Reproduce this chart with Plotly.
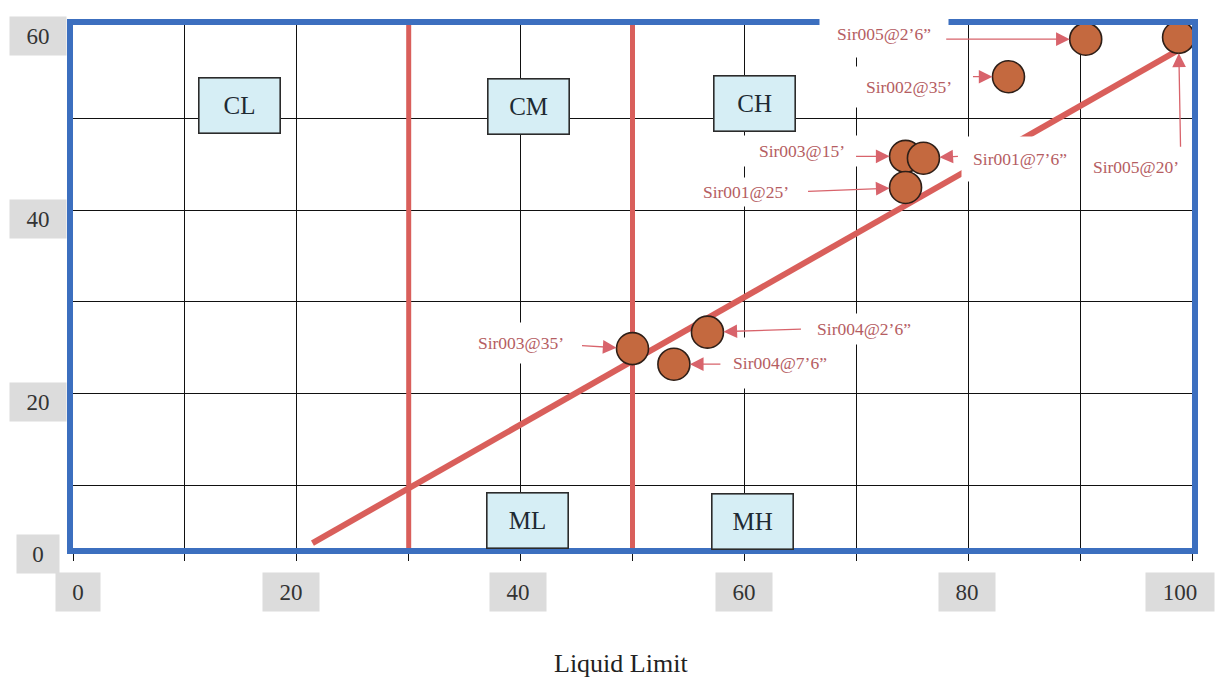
import plotly.graph_objects as go

# ---------------- data ----------------
sample_ids = ["Sir005@2’6”", "Sir005@20’", "Sir002@35’", "Sir003@15’", "Sir001@7’6”",
              "Sir001@25’", "Sir003@35’", "Sir004@2’6”", "Sir004@7’6”"]
liquid_limit = [90.5, 98.8, 83.6, 74.4, 76.0, 74.4, 50.0, 56.7, 53.7]
plasticity_index = [58.7, 58.9, 54.6, 45.9, 45.7, 42.5, 24.9, 26.7, 23.2]

trend_x = [21.4, 99.2]
trend_y = [3.66, 57.8]

ll_boundaries = [30, 50]

zone_names = ["CL", "CM", "CH", "ML", "MH"]
zone_x = [14.9, 40.75, 60.9, 40.6, 60.7]
zone_y = [51.5, 51.3, 51.7, 6.1, 6.0]

x_tick_vals = [0, 20, 40, 60, 80, 100]
y_tick_vals = [0, 20, 40, 60]
x_title = "Liquid Limit"

# ---------------- styles ----------------
X_RANGE = [0, 100]
Y_RANGE = [3.12, 60.25]
SERIF = "Liberation Serif, Times New Roman, serif"
RED = "#d95f5b"
BLUE = "#3c6fbf"
LABEL_COLOR = "#b55d62"
ARROW_COLOR = "#d8636b"
TICK_FONT = dict(family=SERIF, size=23, color="#333333")
TICK_BG = "#dcdcdc"

# label placement per sample: (box dx, box dy, box w, box h, arrow ax, arrow ay) in pixels
label_style = [
    (-202, -5, 128, 46, -141, 0),
    (-43, 130, 108, 42, 2, 111),
    (-99, 10, 108, 40, -37, 0),
    (-104, -5, 122, 30, -51, 0),
    (97, 1, 116, 44, 36, -2),
    (-160, 5, 112, 28, -99, 4),
    (-112, -6, 100, 40, -52, -3),
    (157, -3, 112, 30, 95, -3),
    (106, -1, 108, 50, 48, 0),
]
x_label_shift = [5, -6, -3, 0, -1, -12]

fig = go.Figure()

# Liquid-limit boundary lines
for b in ll_boundaries:
    fig.add_trace(go.Scatter(x=[b, b], y=Y_RANGE, mode="lines",
                             line=dict(color=RED, width=5), hoverinfo="skip",
                             showlegend=False))

# trend line
fig.add_trace(go.Scatter(x=trend_x, y=trend_y, mode="lines",
                         line=dict(color=RED, width=6), hoverinfo="skip",
                         showlegend=False))

# sample points
fig.add_trace(go.Scatter(x=liquid_limit, y=plasticity_index, mode="markers",
                         text=sample_ids,
                         marker=dict(size=32, color="#c4693f",
                                     line=dict(color="#2e1f18", width=1.6)),
                         showlegend=False))

annotations = []

# text labels (white boxes) for samples
for sid, x, y, st in zip(sample_ids, liquid_limit, plasticity_index, label_style):
    dx, dy, w, h, ax, ay = st
    annotations.append(dict(x=x, y=y, xref="x", yref="y", text=sid, showarrow=False,
                            xanchor="center", yanchor="middle",
                            xshift=dx, yshift=-dy, width=w, height=h, borderpad=0,
                            bgcolor="white", font=dict(family=SERIF, size=17.5, color=LABEL_COLOR)))

# arrows pointing to samples
for x, y, st in zip(liquid_limit, plasticity_index, label_style):
    dx, dy, w, h, ax, ay = st
    annotations.append(dict(x=x, y=y, xref="x", yref="y", text="", showarrow=True,
                            ax=ax, ay=ay, arrowhead=2, arrowsize=2.1, arrowwidth=1.3,
                            arrowcolor=ARROW_COLOR, standoff=16, startstandoff=0))

# zone boxes
for name, x, y in zip(zone_names, zone_x, zone_y):
    annotations.append(dict(x=x, y=y, xref="x", yref="y", text=name, showarrow=False,
                            xanchor="center", yanchor="middle",
                            width=80, height=54, borderpad=0, bgcolor="#d6eef5",
                            bordercolor="#2b2b2b", borderwidth=1.6,
                            font=dict(family=SERIF, size=25, color="#1e2a33")))

# x tick labels (grey boxes)
for v, sh in zip(x_tick_vals, x_label_shift):
    t = str(v)
    annotations.append(dict(x=v, y=0, xref="x", yref="paper", text=t, showarrow=False,
                            xanchor="center", yanchor="middle",
                            xshift=sh, yshift=-44, width=32 + 12 * len(t), height=38,
                            borderpad=0, bgcolor=TICK_BG, font=TICK_FONT))

# y tick labels (grey boxes); the lowest sits on the bottom frame as in the reference
for v in y_tick_vals:
    t = str(v)
    if v == y_tick_vals[0]:
        pos = dict(y=0, yref="paper", yshift=-6)
    else:
        pos = dict(y=v, yref="y", yshift=-9)
    annotations.append(dict(x=0, xref="paper", text=t, showarrow=False,
                            xanchor="center", yanchor="middle",
                            xshift=-35, width=28 + 14 * len(t), height=38,
                            borderpad=0, bgcolor=TICK_BG, font=TICK_FONT, **pos))

# axis title
annotations.append(dict(x=0.49, y=0, xref="paper", yref="paper", text=x_title,
                        showarrow=False, xanchor="center", yanchor="middle", yshift=-115,
                        font=dict(family=SERIF, size=26, color="#222222")))

fig.update_layout(
    width=1215, height=673,
    margin=dict(l=65, r=31, t=11, b=133),
    paper_bgcolor="white", plot_bgcolor="white",
    annotations=annotations,
    showlegend=False,
)
fig.update_xaxes(range=X_RANGE, dtick=10, tick0=0, showgrid=True, gridcolor="#111111",
                 gridwidth=1.3, showticklabels=False, ticks="outside", ticklen=7,
                 tickcolor="#111111", tickwidth=1.3, zeroline=False,
                 showline=True, mirror=True, linecolor=BLUE, linewidth=6)
fig.update_yaxes(range=Y_RANGE, tickvals=[10, 20, 30, 40, 50], showgrid=True,
                 gridcolor="#111111", gridwidth=1.3, showticklabels=False, ticks="",
                 zeroline=False, showline=True, mirror=True, linecolor=BLUE, linewidth=6)

fig.write_html("out.html")
